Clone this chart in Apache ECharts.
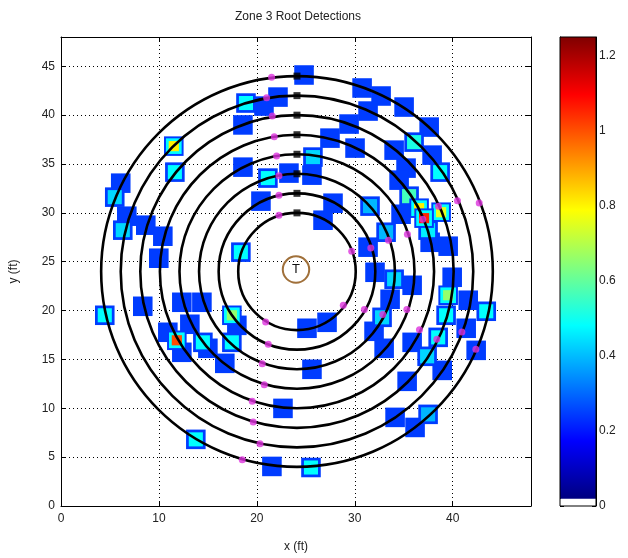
<!DOCTYPE html>
<html><head><meta charset="utf-8">
<script src="https://cdn.jsdelivr.net/npm/echarts@6/dist/echarts.min.js"></script>
<style>html,body{margin:0;padding:0;background:#fff}#c{width:628px;height:558px}</style>
</head><body><div id="c"></div>
<script>
// ---- data ----
const squareX = [
 6.10,5.49,11.52,11.63,6.72,6.31,8.66,10.40,9.99,18.89,
 20.73,22.16,18.58,24.82,18.58,21.13,23.28,20.42,18.37,27.47,
 25.73,25.63,29.42,30.03,26.76,27.78,30.75,32.69,31.36,35.04,
 37.60,36.06,34.02,37.90,35.24,38.72,34.53,31.56,35.55,36.57,
 38.82,37.08,37.49,34.73,33.20,31.36,37.70,39.54,32.07,34.02,
 35.86,33.61,32.79,31.97,33.00,35.86,39.95,39.54,41.59,43.43,
 39.33,41.38,42.40,38.52,37.39,38.93,35.35,34.12,36.16,37.49,
 25.12,27.17,25.63,22.67,21.54,25.53,4.47,8.35,12.34,14.39,
 17.45,17.96,17.45,16.73,13.16,10.91,11.83,14.49,12.34,15.00,
 13.77];
const squareY = [
 33.04,31.61,36.83,34.17,29.66,28.23,28.74,27.61,25.36,41.24,
 40.93,41.85,39.00,44.11,34.68,33.56,34.07,31.20,25.98,37.65,
 35.71,33.86,39.09,36.63,29.25,30.99,42.78,41.96,40.42,40.83,
 38.78,37.24,36.42,35.91,34.58,34.17,33.35,30.69,31.71,30.48,
 30.07,29.46,28.23,29.86,28.02,26.49,26.99,26.59,23.92,23.21,
 22.59,21.16,19.31,17.88,16.14,16.75,23.41,21.57,21.06,19.93,
 19.52,18.19,15.93,17.26,15.32,13.88,12.76,9.07,8.04,9.38,
 18.19,18.80,13.99,9.99,4.05,3.94,19.52,20.44,20.85,20.85,
 19.52,18.49,16.75,14.60,18.60,17.78,16.96,16.75,15.73,16.14,
 6.82];
const squareV = [
 0.23,0.42,0.80,0.47,0.23,0.42,0.23,0.23,0.23,0.47,
 0.23,0.23,0.23,0.23,0.23,0.47,0.23,0.23,0.47,0.23,
 0.42,0.23,0.23,0.23,0.23,0.23,0.23,0.23,0.23,0.23,
 0.23,0.50,0.23,0.23,0.23,0.47,0.23,0.38,0.55,0.80,
 0.75,1.05,0.45,0.23,0.38,0.23,0.23,0.23,0.23,0.42,
 0.23,0.23,0.42,0.23,0.23,0.23,0.23,0.65,0.23,0.47,
 0.47,0.23,0.23,0.47,0.42,0.23,0.23,0.23,0.23,0.38,
 0.23,0.23,0.23,0.23,0.23,0.47,0.47,0.23,0.23,0.23,
 0.65,0.23,0.47,0.23,0.23,0.23,1.00,0.47,0.23,0.23,
 0.47];
const ringCenter = [24.1, 24.0];
const ringRadii = [6, 8, 10, 12, 14, 16, 18, 20];
const markX = [21.51,21.00,21.57,21.78,22.02,22.26,22.26,22.26,
               29.69,31.64,33.44,35.38,36.95,38.55,40.49,42.71,
               28.83,30.98,32.86,35.32,36.61,38.38,40.94,42.37,
               20.90,21.17,20.55,20.76,19.53,19.63,20.32,18.51];
const markY = [43.87,41.78,39.91,37.79,35.81,33.79,31.81,29.76,
               26.08,26.41,27.20,27.82,29.35,30.69,31.23,31.02,
               20.54,20.10,19.59,20.10,18.05,17.06,17.81,16.03,
               18.83,16.55,14.57,12.42,10.71,8.59,6.37,4.73];
const treePos = [24.0, 24.2];
const treeLabel = 'T';
const xRange = [0, 48], yRange = [0, 48];
const cRange = [0, 1.25];
const titleText = 'Zone 3 Root Detections';
const xName = 'x (ft)', yName = 'y (ft)';

// ---- helpers ----
const FONT = '"Liberation Sans", Arial, Helvetica, sans-serif';
function jet(t) {
  t = Math.max(0, Math.min(1, t));
  const f = x => Math.round(255 * Math.max(0, Math.min(1, x)));
  return 'rgb(' + f(1.5 - Math.abs(4 * t - 3)) + ',' + f(1.5 - Math.abs(4 * t - 2)) + ',' + f(1.5 - Math.abs(4 * t - 1)) + ')';
}
const cmax = cRange[1];
const SQ = 2;          // tile side in data units
const BASE = 0.23;     // tile edge level

const n = Math.min(squareX.length, squareY.length, squareV.length);
const tiles = [];
for (let i = 0; i < n; i++) tiles.push([squareX[i], squareY[i], squareV[i]]);
tiles.sort((a, b) => a[2] - b[2]);

const ringTops = ringRadii.map(r => [ringCenter[0], ringCenter[1] + r]);
const marks = markX.map((x, i) => [x, markY[i]]);

const axisCommon = {
  type: 'value',
  axisLine: { show: true, onZero: false, lineStyle: { color: '#000', width: 1 } },
  axisTick: { show: true, inside: true, length: 5, lineStyle: { color: '#000' } },
  axisLabel: { color: '#222', fontSize: 12, fontFamily: FONT, showMaxLabel: false },
  splitLine: { show: false }
};

const option = {
  animation: false,
  backgroundColor: '#fff',
  graphic: [{
    type: 'text', x: 298, y: 17,
    style: { text: titleText, font: '12px ' + FONT, fill: '#222', textAlign: 'center', textVerticalAlign: 'middle' }
  }],
  grid: [
    { left: 61, top: 37, width: 470, height: 469 },
    { left: 560, top: 37, width: 36, height: 469 }
  ],
  xAxis: [
    Object.assign({}, axisCommon, {
      gridIndex: 0, position: 'bottom', min: xRange[0], max: xRange[1], interval: 10,
      axisLabel: Object.assign({}, axisCommon.axisLabel, { margin: 7 }),
      splitLine: { show: true, lineStyle: { color: '#000', type: [1, 3], width: 1 } },
      name: xName, nameLocation: 'middle', nameGap: 35,
      nameTextStyle: { color: '#222', fontSize: 12, fontFamily: FONT }
    }),
    Object.assign({}, axisCommon, {
      gridIndex: 0, position: 'top', min: xRange[0], max: xRange[1], interval: 10,
      axisLabel: { show: false }
    }),
    { gridIndex: 1, type: 'value', min: 0, max: 1, show: false }
  ],
  yAxis: [
    Object.assign({}, axisCommon, {
      gridIndex: 0, position: 'left', min: yRange[0], max: yRange[1], interval: 5,
      axisLabel: Object.assign({}, axisCommon.axisLabel, { margin: 6 }),
      splitLine: { show: true, lineStyle: { color: '#000', type: [1, 3], width: 1 } },
      name: yName, nameLocation: 'middle', nameGap: 41,
      nameTextStyle: { color: '#222', fontSize: 12, fontFamily: FONT }
    }),
    Object.assign({}, axisCommon, {
      gridIndex: 0, position: 'right', min: yRange[0], max: yRange[1], interval: 5,
      axisLabel: { show: false }
    }),
    Object.assign({}, axisCommon, {
      gridIndex: 1, position: 'right', min: cRange[0], max: cRange[1], interval: 0.2,
      axisTick: { show: true, inside: true, length: 4, lineStyle: { color: '#000' } },
      axisLabel: Object.assign({}, axisCommon.axisLabel, { margin: 3,
        formatter: v => String(Math.round(v * 10) / 10) })
    }),
    Object.assign({}, axisCommon, {
      gridIndex: 1, position: 'left', min: cRange[0], max: cRange[1], interval: 0.2,
      axisTick: { show: true, inside: true, length: 4, lineStyle: { color: '#000' } },
      axisLabel: { show: false }
    })
  ],
  series: [
    {
      type: 'custom', xAxisIndex: 0, yAxisIndex: 0, z: 2, data: tiles,
      renderItem: function (params, api) {
        const v = api.value(2);
        const c = api.coord([api.value(0), api.value(1)]);
        const s = api.size([SQ, SQ]);
        const w = s[0], h = s[1];
        const rect = (f, col) => ({ type: 'rect',
          shape: { x: c[0] - w * f / 2, y: c[1] - h * f / 2, width: w * f, height: h * f },
          style: { fill: col } });
        const kids = [rect(1, jet(BASE / cmax))];
        if (v > 0.6) { kids.push(rect(0.8, jet(0.47 / cmax))); kids.push(rect(0.52, jet(v / cmax))); }
        else if (v > 0.3) kids.push(rect(0.72, jet(v / cmax)));
        return { type: 'group', children: kids };
      }
    },
    {
      type: 'custom', xAxisIndex: 0, yAxisIndex: 0, z: 3, data: ringRadii.map(r => [r]),
      renderItem: function (params, api) {
        const r = api.value(0);
        const c = api.coord(ringCenter);
        const rx = api.size([r, 0])[0], ry = api.size([0, r])[1];
        return { type: 'ellipse', shape: { cx: c[0], cy: c[1], rx: rx, ry: ry },
          style: { fill: 'none', stroke: '#000', lineWidth: 2.6 } };
      }
    },
    {
      type: 'scatter', xAxisIndex: 0, yAxisIndex: 0, z: 4, data: ringTops,
      symbol: 'rect', symbolSize: 7, itemStyle: { color: '#000' }
    },
    {
      type: 'scatter', xAxisIndex: 0, yAxisIndex: 0, z: 5, data: marks,
      symbol: 'circle', symbolSize: 7, itemStyle: { color: '#dd33dd' }
    },
    {
      type: 'custom', xAxisIndex: 0, yAxisIndex: 0, z: 5, data: [treePos],
      renderItem: function (params, api) {
        const c = api.coord([api.value(0), api.value(1)]);
        const rx = api.size([1.35, 0])[0], ry = api.size([0, 1.35])[1];
        return { type: 'group', children: [
          { type: 'ellipse', shape: { cx: c[0], cy: c[1], rx: rx, ry: ry },
            style: { fill: 'none', stroke: '#a0703a', lineWidth: 2 } },
          { type: 'text', x: c[0], y: c[1],
            style: { text: treeLabel, font: '13px ' + FONT, fill: '#111', textAlign: 'center', textVerticalAlign: 'middle' } }
        ] };
      }
    },
    {
      type: 'custom', xAxisIndex: 2, yAxisIndex: 2, z: 2, data: [[0]],
      renderItem: function (params, api) {
        const lo = cmax / 64;
        const p0 = api.coord([0, cRange[0]]), p1 = api.coord([1, lo]), p2 = api.coord([1, cmax]);
        const stops = [0, 0.125, 0.375, 0.625, 0.875, 1].map(t => ({ offset: t, color: jet(t) }));
        return { type: 'group', children: [
          { type: 'rect', shape: { x: p0[0], y: p1[1], width: p1[0] - p0[0], height: p0[1] - p1[1] },
            style: { fill: '#fff' } },
          { type: 'rect', shape: { x: p0[0], y: p2[1], width: p1[0] - p0[0], height: p1[1] - p2[1] },
            style: { fill: new echarts.graphic.LinearGradient(0, 1, 0, 0, stops) } },
          { type: 'rect', shape: { x: p0[0], y: p2[1], width: p1[0] - p0[0], height: p0[1] - p2[1] },
            style: { fill: 'none', stroke: '#000', lineWidth: 1 } }
        ] };
      }
    }
  ]
};
const chart = echarts.init(document.getElementById('c'), null, { renderer: 'canvas' });
chart.setOption(option);
</script></body></html>
